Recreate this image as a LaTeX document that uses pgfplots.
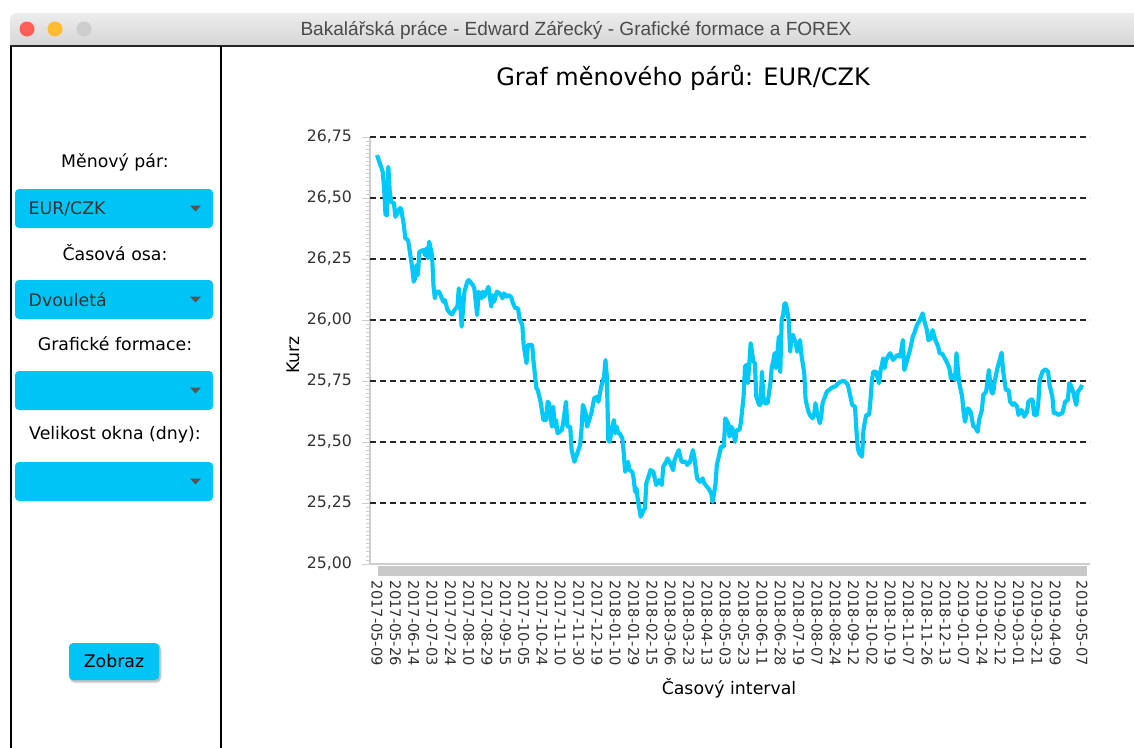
\documentclass[border=0pt]{standalone}
\usepackage{fontspec}
\setmainfont{DejaVu Sans}
\newfontfamily\wintitle{Liberation Sans}
\usepackage{pgfplots}
\pgfplotsset{compat=1.18}

\definecolor{uicyan}{RGB}{0,196,246}
\definecolor{curvecyan}{RGB}{0,200,248}
\definecolor{bargray}{RGB}{200,200,200}
\definecolor{axgray}{RGB}{205,205,205}
\definecolor{ticktext}{RGB}{51,51,51}
\definecolor{arrowgray}{RGB}{85,85,85}
\definecolor{tbtop}{RGB}{236,236,236}
\definecolor{tbbot}{RGB}{214,214,214}
\definecolor{tltext}{RGB}{74,74,74}
\definecolor{redlight}{RGB}{255,95,87}
\definecolor{yellowlight}{RGB}{254,188,46}
\definecolor{graylight}{RGB}{205,205,205}

\pgfplotstableread{
den kurz
0 26.676
4 26.608
5 26.540
6 26.430
7 26.430
8 26.628
9 26.526
10 26.485
12 26.478
13 26.423
15 26.444
16 26.458
17 26.458
19 26.389
20 26.335
22 26.328
25 26.212
26 26.157
27 26.171
28 26.225
29 26.184
30 26.280
33 26.287
34 26.266
35 26.294
36 26.253
37 26.321
39 26.266
40 26.143
41 26.089
42 26.116
44 26.116
46 26.089
47 26.075
48 26.082
50 26.041
52 26.027
53 26.023
55 26.041
57 26.055
58 26.130
59 26.061
60 25.973
62 26.116
64 26.157
65 26.164
68 26.143
69 26.130
71 26.020
72 26.116
74 26.089
75 26.116
76 26.096
78 26.123
79 26.136
81 26.055
82 26.102
83 26.075
85 26.116
87 26.109
89 26.089
90 26.109
92 26.096
93 26.102
95 26.096
96 26.075
98 26.048
100 26.048
101 26.007
103 25.980
104 25.898
106 25.823
107 25.898
110 25.898
111 25.829
113 25.720
114 25.713
116 25.665
118 25.590
120 25.590
121 25.665
122 25.659
124 25.563
125 25.645
126 25.563
127 25.590
128 25.536
131 25.549
132 25.577
134 25.665
135 25.563
137 25.563
138 25.467
140 25.419
142 25.454
144 25.488
145 25.549
146 25.652
148 25.618
149 25.563
152 25.618
154 25.679
156 25.686
157 25.665
159 25.727
161 25.768
162 25.836
163 25.768
164 25.508
165 25.501
166 25.536
168 25.590
169 25.536
170 25.563
171 25.536
172 25.536
174 25.515
175 25.454
176 25.378
178 25.419
179 25.385
181 25.378
182 25.351
183 25.296
184 25.310
185 25.262
187 25.194
189 25.221
190 25.228
191 25.331
194 25.385
196 25.378
197 25.351
198 25.324
200 25.344
202 25.324
203 25.399
205 25.419
206 25.433
208 25.413
210 25.385
211 25.426
213 25.454
214 25.467
216 25.419
217 25.419
219 25.419
220 25.406
222 25.419
224 25.467
225 25.440
227 25.351
229 25.337
231 25.351
232 25.331
235 25.310
237 25.290
238 25.255
239 25.290
240 25.324
241 25.406
244 25.481
246 25.481
247 25.597
249 25.577
250 25.522
251 25.563
252 25.556
254 25.501
255 25.549
257 25.549
258 25.577
260 25.686
261 25.809
262 25.816
263 25.741
264 25.816
265 25.905
267 25.829
268 25.823
269 25.686
271 25.652
272 25.652
273 25.788
274 25.686
275 25.659
277 25.659
279 25.741
280 25.809
281 25.829
282 25.864
283 25.802
285 25.932
286 25.788
287 26.000
288 26.020
289 26.068
290 26.068
292 26.000
293 25.870
294 25.932
295 25.939
297 25.905
298 25.870
300 25.918
301 25.857
303 25.782
304 25.672
306 25.624
307 25.611
309 25.597
310 25.611
311 25.659
312 25.624
314 25.577
315 25.604
316 25.659
319 25.706
321 25.716
322 25.720
324 25.727
325 25.727
327 25.741
329 25.747
331 25.751
332 25.747
334 25.734
335 25.706
337 25.652
339 25.645
340 25.549
341 25.474
342 25.454
344 25.440
345 25.549
346 25.583
347 25.611
349 25.611
350 25.672
351 25.754
352 25.788
354 25.788
356 25.741
357 25.788
359 25.843
360 25.802
361 25.836
363 25.857
364 25.864
366 25.836
367 25.843
369 25.857
371 25.850
373 25.918
374 25.795
376 25.836
378 25.877
380 25.932
381 25.945
383 25.980
385 26.000
387 26.027
388 26.000
390 25.959
391 25.918
393 25.925
394 25.959
396 25.918
398 25.891
399 25.864
401 25.861
404 25.829
406 25.802
407 25.761
409 25.775
410 25.754
411 25.864
412 25.795
413 25.741
415 25.686
416 25.624
417 25.583
419 25.638
421 25.624
423 25.563
424 25.563
426 25.542
427 25.590
429 25.631
430 25.693
432 25.706
434 25.795
435 25.734
436 25.700
437 25.700
438 25.747
440 25.802
441 25.823
443 25.866
444 25.795
446 25.713
448 25.713
449 25.665
451 25.652
452 25.659
454 25.645
455 25.611
457 25.631
458 25.624
459 25.604
461 25.624
462 25.665
464 25.675
465 25.672
466 25.611
468 25.611
469 25.659
470 25.754
472 25.788
474 25.798
476 25.788
477 25.734
479 25.686
480 25.618
482 25.618
483 25.611
486 25.618
487 25.638
488 25.665
490 25.672
491 25.741
492 25.734
494 25.700
495 25.672
496 25.652
497 25.706
499 25.720
500 25.734
}\kurztable

\begin{document}
\begin{tikzpicture}
\begin{scope}[x=0.75pt,y=-0.75pt]
\useasboundingbox (0,0) rectangle (1134,747);
\fill[white] (0,0) rectangle (1134,747);

% window title bar
\shade[top color=tbtop,bottom color=tbbot] (10,46) [rounded corners=5] -- (10,13) -- (1150,13) [sharp corners] -- (1150,46) -- cycle;
\fill[redlight] (27,29) circle[radius=7.5];
\fill[yellowlight] (55,29) circle[radius=7.5];
\fill[graylight] (84,29) circle[radius=7.5];
\node[text=tltext, font=\wintitle\fontsize{14.3pt}{16pt}\selectfont] at (576,30) {Bakalářská práce - Edward Zářecký - Grafické formace a FOREX};
\draw[black!85, line width=1.2pt] (10,46) -- (1150,46);
\draw[black, line width=1.5pt] (11,46) -- (11,760);
\draw[black, line width=2.2pt] (221,46) -- (221,760);

% sidebar
\begin{scope}[every node/.style={font=\fontsize{13pt}{15pt}\selectfont}]
\node at (115,162) {Měnový pár:};
\node at (115,253) {Časová osa:};
\node at (115,344) {Grafické formace:};
\node at (115,435) {Velikost okna (dny):};
\foreach \yy/\txt in {189/{EUR/CZK}, 280/Dvouletá, 371/{}, 462/{}} {
  \fill[uicyan, rounded corners=3] (15,\yy) rectangle (213,\yy+39);
  \fill[arrowgray] (190,\yy+16.5) -- (201,\yy+16.5) -- (195.5,\yy+22.5) -- cycle;
  \node[anchor=west, text=ticktext] at (24,\yy+19.5) {\txt};
}
\fill[black!15, rounded corners=4] (69.5,644.5) rectangle (161.5,683);
\fill[black!25, rounded corners=3] (70,644) rectangle (160.5,681.5);
\fill[uicyan, rounded corners=3] (69,643) rectangle (159,680);
\node at (114,661.5) {Zobraz};
\end{scope}

% chart texts
\node[font=\fontsize{18pt}{21pt}\selectfont] at (683,78) {Graf měnového párů: EUR/CZK};
\node[rotate=90, font=\fontsize{13pt}{15pt}\selectfont] at (293,355) {Kurz};
\node[font=\fontsize{13pt}{15pt}\selectfont] at (729,688) {Časový interval};
\end{scope}

\begin{axis}[
  at={(277.5pt,-423pt)}, anchor=south west,
  scale only axis, width=540pt, height=320.25pt,
  xmin=-5, xmax=505.7, ymin=25, ymax=26.75,
  axis x line*=bottom, axis y line*=left,
  axis line style={draw=axgray, line width=0.8pt, -},
  tick align=outside,
  ytick={25,25.25,25.5,25.75,26,26.25,26.5,26.75},
  minor y tick num=14,
  major tick length=6pt, minor tick length=3pt,
  ytick style={draw=axgray, line width=0.6pt},
  minor y tick style={draw=axgray, line width=0.5pt},
  xtick style={draw=none},
  ticklabel style={text=ticktext, font=\fontsize{11pt}{13pt}\selectfont},
  yticklabel style={font=\fontsize{11.8pt}{13pt}\selectfont, /pgf/number format/.cd, fixed, fixed zerofill, precision=2, use comma, assume math mode=true},
  yticklabel shift=4pt,
  xtick={0,13,26,39,52,65,78,91,104,117,130,143,156,169,182,195,208,221,234,247,260,273,286,299,312,325,338,351,364,377,390,403,416,429,442,455,468,481,500},
  xticklabels={2017-05-09,2017-05-26,2017-06-14,2017-07-03,2017-07-24,2017-08-10,2017-08-29,2017-09-15,2017-10-05,2017-10-24,2017-11-10,2017-11-30,2017-12-19,2018-01-10,2018-01-29,2018-02-15,2018-03-06,2018-03-23,2018-04-13,2018-05-03,2018-05-23,2018-06-11,2018-06-28,2018-07-19,2018-08-07,2018-08-24,2018-09-12,2018-10-02,2018-10-19,2018-11-07,2018-11-26,2018-12-13,2019-01-07,2019-01-24,2019-02-12,2019-03-01,2019-03-21,2019-04-09,2019-05-07},
  xticklabel style={rotate=-90, anchor=west},
  xticklabel shift=3pt,
  clip=false,
]
\pgfplotsinvokeforeach{25.25,25.5,25.75,26,26.25,26.5,26.75}{
  \draw[black!85, line width=0.9pt, dash pattern=on 4.5pt off 3pt] (axis cs:-5,#1) -- (axis cs:505.7,#1);
}
\fill[bargray] ([yshift=-1.5pt]axis cs:0.7,25) rectangle ([yshift=-9pt]axis cs:503.5,25);
\addplot[no marks, curvecyan, line width=3.1pt, line join=round] table[x=den, y=kurz] {\kurztable};
\end{axis}
\end{tikzpicture}
\end{document}
